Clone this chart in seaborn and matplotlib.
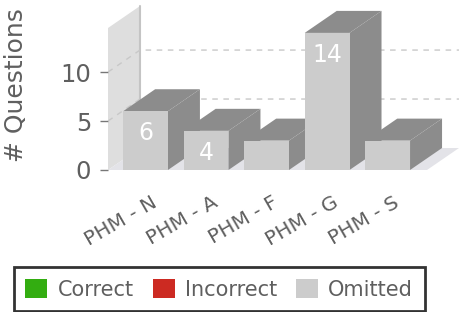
import matplotlib
matplotlib.use('Agg')
import matplotlib.pyplot as plt
import matplotlib.transforms as mtransforms
from matplotlib.patches import Polygon, Patch
import seaborn as sns
import pandas as pd

# données
categories = ['PHM - N', 'PHM - A', 'PHM - F', 'PHM - G', 'PHM - S']
correct = [0, 0, 0, 0, 0]
incorrect = [0, 0, 0, 0, 0]
omitted = [6, 4, 3, 14, 3]
series_names = ['Correct', 'Incorrect', 'Omitted']
series_colors = ['#33ad11', '#cc2a22', '#cccccc']
yticks = [0, 5, 10]

df = pd.DataFrame({'topic': categories, 'omitted': omitted})

sns.set_style('white')
plt.rcParams['font.family'] = ['DejaVu Sans']
text_col = '#5f5f5f'
dark = '#8c8c8c'

fig = plt.figure(figsize=(4.67, 3.12), dpi=100)
W, H = 467, 312
ax = fig.add_axes([108 / W, 1 - 170 / H, (427 - 108) / W, (170 - 28) / H])

# faces avant des barres
sns.barplot(data=df, x='topic', y='omitted', color=series_colors[2], width=0.74,
            saturation=1, linewidth=0, ax=ax, zorder=5)
ax.set_xlim(-0.62, 4.65)
ax.set_ylim(0, 14.5)

# profondeur (en pixels -> données)
inv = ax.transData.inverted()
p0 = ax.transData.transform((0, 0))
ddx, ddy = inv.transform(p0 + [32, 22])
x0, x1 = ax.get_xlim()
ytop = ax.get_ylim()[1]

# mur gauche + sol
wall = Polygon([(x0, 0), (x0, ytop), (x0 + ddx, ytop + ddy), (x0 + ddx, ddy)],
               closed=True, facecolor='#dedede', edgecolor='none', zorder=0, clip_on=False)
ax.add_patch(wall)
ax.plot([x0 + ddx, x0 + ddx], [ddy, ytop + ddy], color='#c4c4c4', lw=1.5, zorder=0.5, clip_on=False)
floor = Polygon([(x0, 0), (x1, 0), (x1 + ddx, ddy), (x0 + ddx, ddy)],
                closed=True, facecolor='#e3e3e8', edgecolor='none', zorder=0, clip_on=False)
ax.add_patch(floor)

# grille en pointillés sur le fond
for t in yticks[1:]:
    ax.plot([x0, x0 + ddx, x1 + ddx], [t, t + ddy, t + ddy], color='#c8c8c8', lw=1,
            ls=(0, (4, 4)), zorder=1, clip_on=False)

# côtés et dessus des barres
for bar in list(ax.patches):
    if not hasattr(bar, 'get_x') or bar in (wall, floor):
        continue
    bx, bw, bh = bar.get_x(), bar.get_width(), bar.get_height()
    side = Polygon([(bx + bw, 0), (bx + bw, bh), (bx + bw + ddx, bh + ddy), (bx + bw + ddx, ddy)],
                   closed=True, facecolor=dark, edgecolor='none', zorder=3, clip_on=False)
    top = Polygon([(bx, bh), (bx + bw, bh), (bx + bw + ddx, bh + ddy), (bx + ddx, bh + ddy)],
                  closed=True, facecolor=dark, edgecolor='none', zorder=3, clip_on=False)
    ax.add_patch(side)
    ax.add_patch(top)

# étiquettes de valeurs
for i, v in enumerate(omitted):
    if v >= 4:
        ax.annotate(str(v), (i, v), xytext=(0, -16), textcoords='offset points',
                    ha='center', va='center', color='white', fontsize=17, zorder=6)

# axes
for s in ax.spines.values():
    s.set_visible(False)
ax.set_yticks(yticks)
ax.tick_params(axis='y', left=True, length=6, width=1, color='#777777', pad=6,
               labelsize=17.5, labelcolor=text_col)
ax.tick_params(axis='x', bottom=False, labelsize=14.5, labelcolor=text_col, pad=19)
ax.set_xlabel('')
ax.set_ylabel('# Questions', fontsize=18, color=text_col)
ax.yaxis.set_label_coords(-0.25, 0.6)
offset = mtransforms.ScaledTranslation(10 / 100, 0, fig.dpi_scale_trans)
for lab in ax.get_xticklabels():
    lab.set_rotation(30)
    lab.set_ha('right')
    lab.set_va('center')
    lab.set_rotation_mode('anchor')
    lab.set_transform(lab.get_transform() + offset)

# légende
handles = [Patch(facecolor=c, edgecolor='none') for c in series_colors]
leg = fig.legend(handles, series_names, loc='lower left', bbox_to_anchor=(14 / W, 1 / H),
                 bbox_transform=fig.transFigure, ncol=3, fontsize=15, frameon=True,
                 fancybox=False, borderaxespad=0, handlelength=1.05, handleheight=1.05,
                 handletextpad=0.5, columnspacing=0.9, borderpad=0.55)
leg.get_frame().set_edgecolor('black')
leg.get_frame().set_linewidth(2)
for t in leg.get_texts():
    t.set_color(text_col)

fig.savefig('out.png', dpi=100)
